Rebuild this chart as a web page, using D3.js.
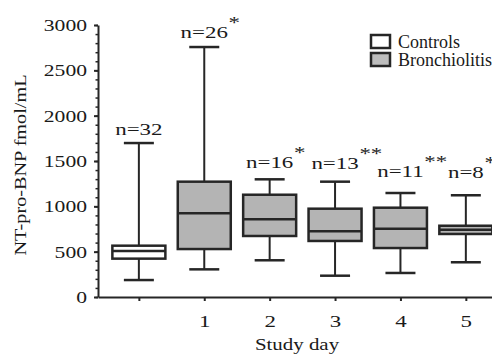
<!DOCTYPE html>
<html>
<head>
<meta charset="utf-8">
<script src="https://cdn.jsdelivr.net/npm/d3@7"></script>
<style>
  html, body { margin: 0; padding: 0; background: #fff; }
  svg { display: block; font-family: "Liberation Serif", "DejaVu Serif", serif; }
</style>
</head>
<body>
<div id="chart"></div>
<script>
// data (fmol/mL)
const categories = ["", "1", "2", "3", "4", "5"];
const groupOf = ["Controls", "Bronchiolitis", "Bronchiolitis", "Bronchiolitis", "Bronchiolitis", "Bronchiolitis"];
const whiskerLow = [187, 305, 405, 235, 265, 383];
const q1 = [423, 529, 673, 618, 540, 695];
const median = [507, 923, 857, 725, 753, 742];
const q3 = [566, 1272, 1128, 974, 985, 786];
const whiskerHigh = [1698, 2757, 1298, 1272, 1147, 1122];
const nCounts = [32, 26, 16, 13, 11, 8];
const stars = ["", "*", "*", "**", "**", "*"];
const nLabelAt = [1790, 2855, 1420, 1410, 1320, 1310];
const yTicks = [0, 500, 1000, 1500, 2000, 2500, 3000];
const legendItems = ["Controls", "Bronchiolitis"];

const W = 492, H = 358;
const ink = "#262626";
const fills = { Controls: "#ffffff", Bronchiolitis: "#b4b4b4" };

const svg = d3.select("#chart").append("svg")
  .attr("width", W)
  .attr("height", H);

const x = d3.scaleLinear().domain([-0.625, 5.4]).range([98, 492]);
const y = d3.scaleLinear().domain([0, 3000]).range([297, 25]);

const boxW = 53, capW = 30;
const sx = 1.35; // figure text is a bit wide

// y axis: minor ticks every 100
svg.append("g")
  .attr("transform", "translate(98,0)")
  .call(d3.axisLeft(y).tickValues(d3.range(0, 3001, 100)).tickSize(2.5).tickFormat(""))
  .call(g => g.select(".domain").remove())
  .call(g => g.selectAll("line").attr("stroke", ink).attr("stroke-width", 1.5));

const yAxis = svg.append("g")
  .attr("transform", "translate(98,0)")
  .call(d3.axisLeft(y).tickValues(yTicks).tickFormat(d3.format("d")).tickSize(4).tickSizeOuter(0));
yAxis.select(".domain").attr("stroke", ink).attr("stroke-width", 2);
yAxis.selectAll("line").attr("stroke", ink).attr("stroke-width", 2);
yAxis.selectAll("text")
  .attr("font-family", "Liberation Serif")
  .attr("font-size", 16)
  .attr("fill", "#1a1a1a")
  .attr("x", -11 / sx)
  .attr("dy", "0.34em")
  .attr("transform", `scale(${sx},1)`);

// x axis
const xAxis = svg.append("g")
  .attr("transform", "translate(0,297)")
  .call(d3.axisBottom(x).tickValues(d3.range(categories.length))
    .tickFormat(i => categories[i]).tickSize(4).tickSizeOuter(0));
xAxis.select(".domain").attr("stroke", ink).attr("stroke-width", 2);
xAxis.selectAll("line").attr("stroke", ink).attr("stroke-width", 2);
xAxis.selectAll(".tick text")
  .attr("font-family", "Liberation Serif")
  .attr("font-size", 17)
  .attr("fill", "#1a1a1a")
  .attr("y", 30)
  .attr("dy", 0)
  .attr("transform", `scale(${sx},1)`);

// boxes
const idx = d3.range(categories.length);
const box = svg.append("g").selectAll("g").data(idx).join("g");

box.append("line")
  .attr("x1", i => x(i)).attr("x2", i => x(i))
  .attr("y1", i => y(whiskerHigh[i])).attr("y2", i => y(whiskerLow[i]))
  .attr("stroke", ink).attr("stroke-width", 2);

box.append("line")
  .attr("x1", i => x(i) - capW / 2).attr("x2", i => x(i) + capW / 2)
  .attr("y1", i => y(whiskerHigh[i])).attr("y2", i => y(whiskerHigh[i]))
  .attr("stroke", ink).attr("stroke-width", 2.5);

box.append("line")
  .attr("x1", i => x(i) - capW / 2).attr("x2", i => x(i) + capW / 2)
  .attr("y1", i => y(whiskerLow[i])).attr("y2", i => y(whiskerLow[i]))
  .attr("stroke", ink).attr("stroke-width", 2.5);

box.append("rect")
  .attr("x", i => x(i) - boxW / 2)
  .attr("width", boxW)
  .attr("y", i => y(q3[i]))
  .attr("height", i => y(q1[i]) - y(q3[i]))
  .attr("fill", i => fills[groupOf[i]])
  .attr("stroke", ink).attr("stroke-width", 2.5);

box.append("line")
  .attr("x1", i => x(i) - boxW / 2).attr("x2", i => x(i) + boxW / 2)
  .attr("y1", i => y(median[i])).attr("y2", i => y(median[i]))
  .attr("stroke", ink).attr("stroke-width", 2.5);

// n labels with significance stars
idx.forEach(i => {
  const cx = x(i), by = y(nLabelAt[i]);
  const g = svg.append("g").attr("transform", `translate(${cx},${by}) scale(${sx},1)`);
  const t = g.append("text")
    .attr("text-anchor", "middle")
    .attr("font-family", "Liberation Serif")
    .attr("font-size", 17)
    .attr("fill", "#1a1a1a")
    .text("n=" + nCounts[i]);
  if (stars[i]) {
    const w = t.node().getComputedTextLength();
    g.append("text")
      .attr("x", w / 2 + 0.5)
      .attr("y", -10)
      .attr("font-family", "Liberation Serif")
      .attr("font-size", 17)
      .attr("fill", "#1a1a1a")
      .text(stars[i]);
  }
});

// axis titles
svg.append("g")
  .attr("transform", "translate(297,350) scale(1.23,1)")
  .append("text")
  .attr("text-anchor", "middle")
  .attr("font-size", 17)
  .attr("fill", "#1a1a1a")
  .text("Study day");

svg.append("g")
  .attr("transform", "translate(26,165) rotate(-90) scale(1.19,1)")
  .append("text")
  .attr("text-anchor", "middle")
  .attr("font-size", 17)
  .attr("fill", "#1a1a1a")
  .text("NT-pro-BNP fmol/mL");

// legend
const leg = svg.append("g").attr("transform", "translate(371,35)")
  .selectAll("g").data(legendItems).join("g")
  .attr("transform", (d, i) => `translate(0,${i * 18})`);
leg.append("rect")
  .attr("width", 19).attr("height", 13)
  .attr("fill", d => d === "Controls" ? "#ffffff" : "#bdbdbd")
  .attr("stroke", ink).attr("stroke-width", 2.5);
leg.append("text")
  .attr("x", 27).attr("y", 12.5)
  .attr("font-size", 18)
  .attr("fill", "#1a1a1a")
  .text(d => d);
</script>
</body>
</html>
